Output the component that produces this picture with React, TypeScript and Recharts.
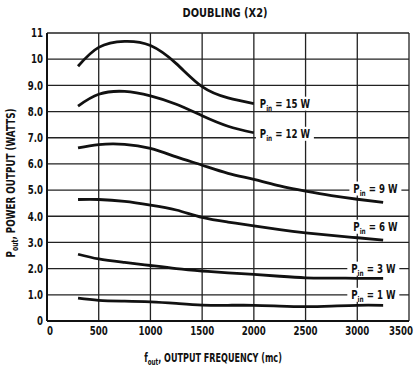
import React from "react";
import {
  LineChart,
  Line,
  XAxis,
  YAxis,
  CartesianGrid,
  ReferenceDot,
} from "recharts";

const FONT = "'DejaVu Sans Condensed', 'DejaVu Sans', sans-serif";
const SQUEEZE = 0.8;

// output frequency (mc)
const freq = [300, 500, 750, 1000, 1250, 1500, 1750, 2000, 2250, 2500, 2750, 3000, 3250];

// output power (watts) per input power
const p15 = [9.73, 10.45, 10.68, 10.52, 9.83, 8.95, 8.52, 8.3, null, null, null, null, null];
const p12 = [8.21, 8.66, 8.77, 8.6, 8.28, 7.84, 7.44, 7.19, null, null, null, null, null];
const p9 = [6.61, 6.74, 6.75, 6.59, 6.27, 5.95, 5.64, 5.41, 5.16, 4.96, 4.79, 4.65, 4.53];
const p6 = [4.64, 4.64, 4.57, 4.43, 4.24, 3.96, 3.78, 3.63, 3.49, 3.37, 3.27, 3.18, 3.09];
const p3 = [2.55, 2.37, 2.24, 2.12, 2.0, 1.91, 1.84, 1.78, 1.71, 1.65, 1.64, 1.63, 1.63];
const p1 = [0.87, 0.79, 0.76, 0.73, 0.67, 0.61, 0.6, 0.6, 0.57, 0.55, 0.57, 0.6, 0.6];

const xTicks = [0, 500, 1000, 1500, 2000, 2500, 3000, 3500];
const yTicks = [0, 1, 2, 3, 4, 5, 6, 7, 8, 9, 10, 11];

// curve labels: input power, and where the label sits (freq, watts)
const labelWatts = ["15", "12", "9", "6", "3", "1"];
const labelFreq = [2300, 2300, 3175, 3175, 3155, 3155];
const labelPout = [8.3, 7.15, 5.06, 3.6, 2.0, 1.0];

const seriesKeys = ["p15", "p12", "p9", "p6", "p3", "p1"];
const seriesValues = [p15, p12, p9, p6, p3, p1];

const data = freq.map((f, i) => {
  const row: Record<string, number | null> = { f };
  seriesKeys.forEach((key, k) => {
    row[key] = seriesValues[k][i];
  });
  return row;
});

function formatY(v: number): string {
  if (v === 0) return "0";
  if (v >= 10) return String(v);
  return v.toFixed(1);
}

function XTick(props: any) {
  const { x, y, payload } = props;
  let tx = x;
  let anchor = "middle";
  if (payload.value === 0) tx = x + 3;
  if (payload.value === 3500) {
    tx = 413;
    anchor = "end";
  }
  return (
    <g transform={`translate(${tx},${y + 5.5}) scale(${SQUEEZE},1)`}>
      <text
        x={0}
        y={0}
        textAnchor={anchor}
        fontFamily={FONT}
        fontWeight="bold"
        fontSize={12}
        fill="#111"
      >
        {payload.value}
      </text>
    </g>
  );
}

function YTick(props: any) {
  const { x, y, payload } = props;
  return (
    <g transform={`translate(${x + 4},${y + 4.3}) scale(${SQUEEZE},1)`}>
      <text
        x={0}
        y={0}
        textAnchor="end"
        fontFamily={FONT}
        fontWeight="bold"
        fontSize={12}
        fill="#111"
      >
        {formatY(payload.value)}
      </text>
    </g>
  );
}

function PinLabel(props: any) {
  const { cx, cy, watts } = props;
  const w = watts.length > 1 ? 58 : 52;
  return (
    <g>
      <rect x={cx - w / 2} y={cy - 7} width={w} height={14} fill="#fff" />
      <g transform={`translate(${cx},${cy + 4}) scale(${SQUEEZE},1)`}>
        <text
          x={0}
          y={0}
          textAnchor="middle"
          fontFamily={FONT}
          fontWeight="bold"
          fontSize={12}
          fill="#111"
        >
          P
          <tspan fontSize={8} dy={3}>in</tspan>
          <tspan dy={-3}>{` = ${watts} W`}</tspan>
        </text>
      </g>
    </g>
  );
}

export default function App() {
  return (
    <div
      style={{
        position: "absolute",
        left: 0,
        top: 0,
        width: 414,
        height: 369,
        background: "#fff",
        fontFamily: FONT,
        color: "#111",
      }}
    >
      <div
        style={{
          position: "absolute",
          left: 0,
          width: 450,
          top: 5,
          textAlign: "center",
          fontWeight: "bold",
          fontSize: 13,
          transform: "scaleX(0.84)",
          transformOrigin: "225px 0",
        }}
      >
        DOUBLING (X2)
      </div>

      <LineChart
        width={414}
        height={369}
        data={data}
        margin={{ top: 33, right: 5, bottom: 0, left: 0 }}
      >
        <CartesianGrid stroke="#222" strokeWidth={1.3} />
        <XAxis
          dataKey="f"
          type="number"
          domain={[0, 3500]}
          ticks={xTicks}
          height={48}
          tickLine={false}
          axisLine={{ stroke: "#111", strokeWidth: 2 }}
          tick={<XTick />}
          tickMargin={2}
        />
        <YAxis
          type="number"
          domain={[0, 11]}
          ticks={yTicks}
          width={47}
          tickLine={false}
          axisLine={{ stroke: "#111", strokeWidth: 2 }}
          tick={<YTick />}
          tickMargin={2}
        />
        {seriesKeys.map((key) => (
          <Line
            key={key}
            dataKey={key}
            type="natural"
            stroke="#111"
            strokeWidth={2.8}
            dot={false}
            isAnimationActive={false}
          />
        ))}
        {labelWatts.map((w, i) => (
          <ReferenceDot
            key={w}
            x={labelFreq[i]}
            y={labelPout[i]}
            r={0}
            shape={(p: any) => <PinLabel {...p} watts={w} />}
          />
        ))}
      </LineChart>

      <div
        style={{
          position: "absolute",
          left: 0,
          width: 426,
          top: 351,
          textAlign: "center",
          fontWeight: "bold",
          fontSize: 11.5,
          transform: "scaleX(0.78)",
          transformOrigin: "213px 0",
        }}
      >
        f<sub style={{ fontSize: 8 }}>out</sub>, OUTPUT FREQUENCY (mc)
      </div>

      <div
        style={{
          position: "absolute",
          left: 12,
          top: 183,
          transform: "translate(-50%, -50%) rotate(-90deg) scaleX(0.85)",
          whiteSpace: "nowrap",
          fontWeight: "bold",
          fontSize: 11.5,
        }}
      >
        P<sub style={{ fontSize: 8 }}>out</sub>, POWER OUTPUT (WATTS)
      </div>
    </div>
  );
}
